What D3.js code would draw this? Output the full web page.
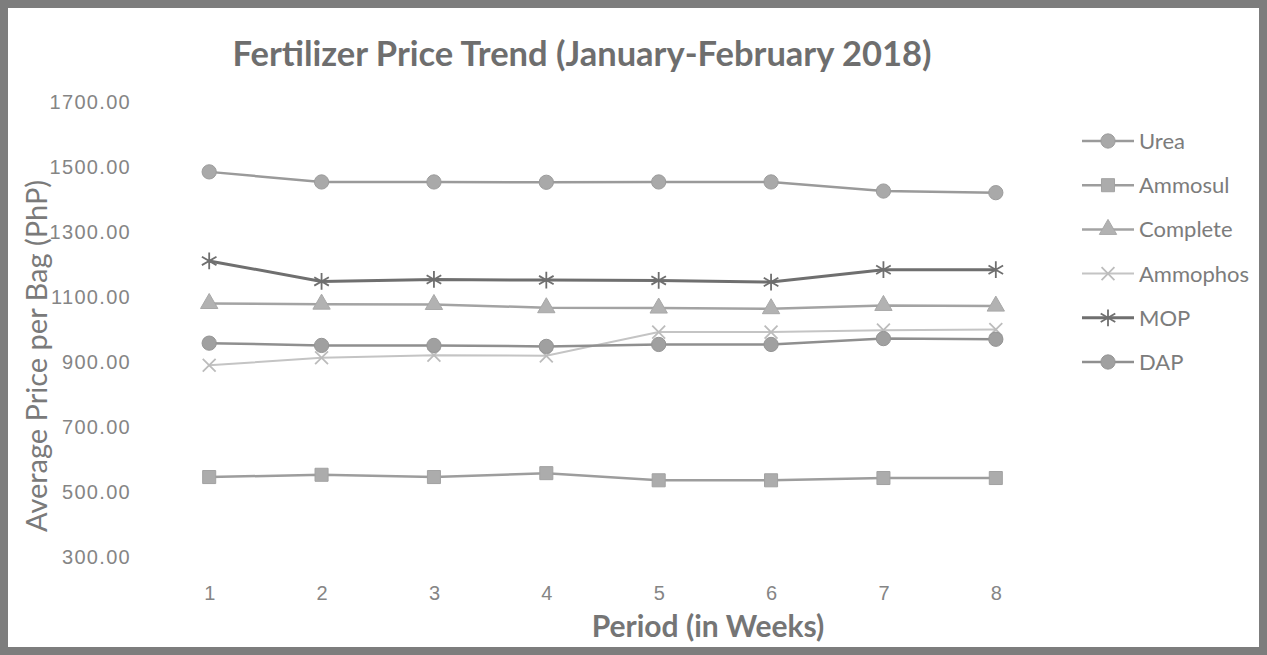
<!DOCTYPE html>
<html>
<head>
<meta charset="utf-8">
<script src="https://cdn.jsdelivr.net/npm/d3@7"></script>
<style>
  body { margin: 0; background: #fff; }
  svg { display: block; font-family: Lato, "Open Sans", sans-serif; }
  .axis text { fill: #858585; font-size: 20px; }
  .axis.y text { letter-spacing: 1.3px; }
  .axis path, .axis line { display: none; }
</style>
</head>
<body>
<div id="chart"></div>
<script>
// values
const weeks = [1, 2, 3, 4, 5, 6, 7, 8];
const urea = [1485, 1454, 1454, 1453, 1454, 1454, 1426, 1421];
const ammosul = [546, 553, 546, 558, 536, 536, 543, 543];
const complete = [1080, 1078, 1077, 1067, 1066, 1064, 1074, 1072];
const ammophos = [890, 913, 921, 919, 992, 992, 998, 1000];
const mop = [1211, 1148, 1154, 1152, 1151, 1146, 1184, 1184];
const dap = [958, 951, 951, 948, 954, 954, 972, 970];
const yTicks = [300, 500, 700, 900, 1100, 1300, 1500, 1700];

const seriesNames = ["Urea", "Ammosul", "Complete", "Ammophos", "MOP", "DAP"];
const seriesValues = [urea, ammosul, complete, ammophos, mop, dap];

const W = 1267, H = 655;
const plot = { left: 153, right: 1052, top: 102, bottom: 557 };

const svg = d3.select('#chart')
  .append('svg')
    .attr('width', W)
    .attr('height', H);

// scanned page frame
svg.append('rect')
  .attr('x', 4).attr('y', 4)
  .attr('width', W - 8).attr('height', H - 8)
  .attr('fill', '#fff')
  .attr('stroke', '#7d7d7d')
  .attr('stroke-width', 8);

const x = d3.scalePoint()
  .domain(weeks)
  .range([plot.left, plot.right])
  .padding(0.5);

const y = d3.scaleLinear()
  .domain([300, 1700])
  .range([plot.bottom, plot.top]);

svg.append('g')
  .attr('class', 'axis y')
  .attr('transform', `translate(131,0)`)
  .call(d3.axisLeft(y).tickValues(yTicks).tickFormat(d3.format('.2f')).tickSize(0).tickPadding(0));

svg.append('g')
  .attr('class', 'axis')
  .attr('transform', `translate(0,583)`)
  .call(d3.axisBottom(x).tickSize(0).tickPadding(3));

// titles
svg.append('text')
  .attr('x', 582).attr('y', 66)
  .attr('text-anchor', 'middle')
  .style('font-size', '34.5px').style('font-weight', 'bold')
  .attr('fill', '#6e6e6e')
  .text('Fertilizer Price Trend (January-February 2018)');

svg.append('text')
  .attr('x', 708).attr('y', 637)
  .attr('text-anchor', 'middle')
  .style('font-size', '30px').style('font-weight', 'bold')
  .attr('fill', '#757575')
  .text('Period (in Weeks)');

svg.append('text')
  .attr('transform', 'translate(47,356) rotate(-90)')
  .attr('text-anchor', 'middle')
  .style('font-size', '29px')
  .attr('fill', '#7a7a7a')
  .text('Average Price per Bag (PhP)');

const styles = {
  Urea:     { line: '#9a9a9a', width: 2.5, sym: d3.symbolCircle,   size: 160, fill: '#a9a9a9', stroke: '#9c9c9c' },
  Ammosul:  { line: '#9d9d9d', width: 2.5, sym: d3.symbolSquare,   size: 170, fill: '#acacac', stroke: '#a2a2a2' },
  Complete: { line: '#a3a3a3', width: 2.5, sym: d3.symbolTriangle, size: 130, fill: '#b2b2b2', stroke: '#a8a8a8' },
  Ammophos: { line: '#c4c4c4', width: 2,   sym: d3.symbolTimes,    size: 110, fill: 'none',    stroke: '#bcbcbc' },
  MOP:      { line: '#6f6f6f', width: 3,   sym: d3.symbolAsterisk, size: 200, fill: 'none',    stroke: '#6f6f6f' },
  DAP:      { line: '#8f8f8f', width: 2.5, sym: d3.symbolCircle,   size: 160, fill: '#a0a0a0', stroke: '#959595' }
};

const line = d3.line()
  .x((d, i) => x(weeks[i]))
  .y(d => y(d));

seriesNames.forEach((name, k) => {
  const s = styles[name];
  const vals = seriesValues[k];
  const g = svg.append('g');

  g.append('path')
    .datum(vals)
    .attr('fill', 'none')
    .attr('stroke', s.line)
    .attr('stroke-width', s.width)
    .attr('d', line);

  g.selectAll('path.m')
    .data(vals)
    .join('path')
      .attr('class', 'm')
      .attr('transform', (d, i) => `translate(${x(weeks[i])},${y(d)})`)
      .attr('d', d3.symbol(s.sym, s.size))
      .attr('fill', s.fill)
      .attr('stroke', s.stroke)
      .attr('stroke-width', s.fill === 'none' ? 1.8 : 1);
});

// legend
const legend = svg.append('g')
  .selectAll('g')
  .data(seriesNames)
  .join('g')
    .attr('transform', (d, i) => `translate(1082,${141 + i * 44.2})`);

legend.append('line')
  .attr('x1', 0).attr('x2', 52)
  .attr('stroke', d => styles[d].line)
  .attr('stroke-width', d => styles[d].width);

legend.append('path')
  .attr('transform', 'translate(26,0)')
  .attr('d', d => d3.symbol(styles[d].sym, styles[d].size)())
  .attr('fill', d => styles[d].fill)
  .attr('stroke', d => styles[d].stroke)
  .attr('stroke-width', d => styles[d].fill === 'none' ? 1.8 : 1);

legend.append('text')
  .attr('x', 57)
  .attr('dy', '0.36em')
  .style('font-size', '22px')
  .attr('fill', '#7c7c7c')
  .text(d => d);
</script>
</body>
</html>
